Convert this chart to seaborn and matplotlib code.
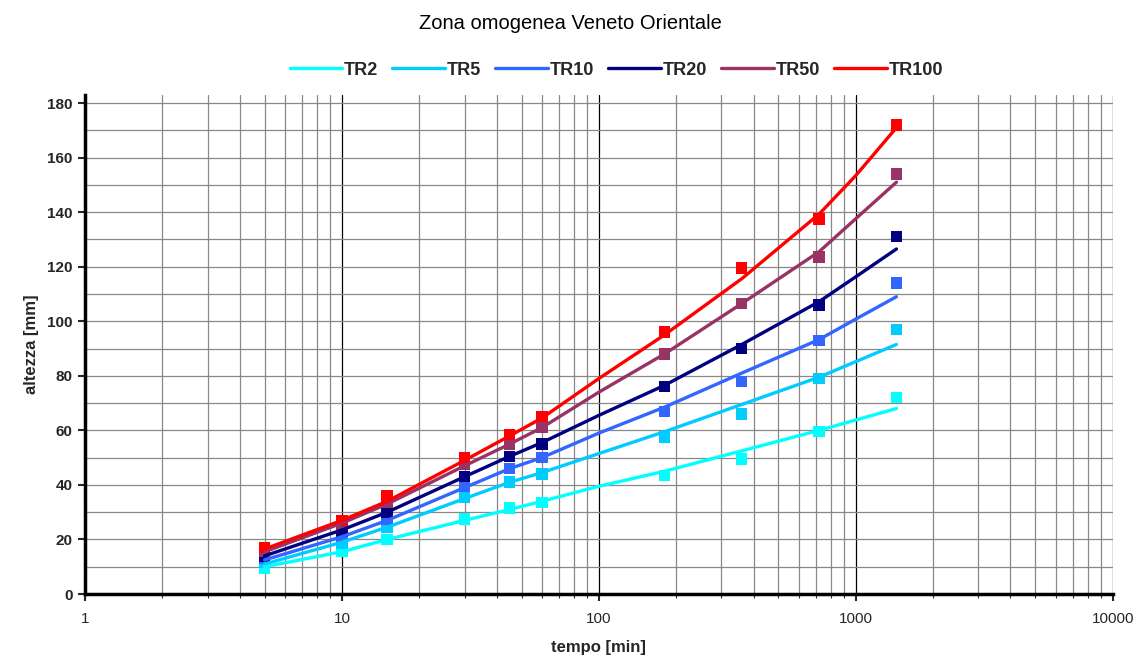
import numpy as np
import pandas as pd
import seaborn as sns
import matplotlib.pyplot as plt
from matplotlib.ticker import LogLocator, FixedLocator, NullFormatter, MultipleLocator

# durations of the observed points [min]
durate = [5, 10, 15, 30, 45, 60, 180, 360, 720, 1440]
# durations where the fitted curves were read
durate_curva = [5, 10, 15, 30, 45, 60, 100, 180, 360, 720, 1000, 1440]

serie = ['TR2', 'TR5', 'TR10', 'TR20', 'TR50', 'TR100']
colori = ['#00FFFF', '#00CCFF', '#3366FF', '#000080', '#993366', '#FF0000']

# observed heights [mm]
oss_tr2 = [9.5, 15.5, 20, 27.5, 31.5, 33.5, 43.5, 49.5, 59.5, 72]
oss_tr5 = [11.5, 18.5, 24.5, 35.5, 41, 44, 57.5, 66, 79, 97]
oss_tr10 = [13, 21, 27.5, 39.5, 46, 50, 67, 78, 93, 114]
oss_tr20 = [14, 23, 30, 43, 50.5, 55, 76, 90, 106, 131]
oss_tr50 = [15.5, 25.5, 33.5, 47.5, 55, 61, 88, 106.5, 123.5, 154]
oss_tr100 = [17, 27, 36, 50, 58.5, 65, 96, 119.5, 137.5, 172]

# fitted curves [mm]
fit_tr2 = [10, 15.5, 20, 27, 31, 34, 39.5, 45, 52.5, 60, 63.8, 68]
fit_tr5 = [11, 19, 24.5, 35, 41, 44.5, 51.5, 59.5, 69.5, 79.5, 85.2, 91.5]
fit_tr10 = [12.5, 21, 27, 39, 46, 50, 59, 68.5, 81, 93.3, 100.8, 109]
fit_tr20 = [14, 23.5, 30, 43, 50.5, 55.5, 65.5, 76.5, 91.5, 107.2, 116.3, 126.5]
fit_tr50 = [15.5, 26, 33, 47, 55, 61, 74, 88, 106.5, 125.5, 137.6, 151]
fit_tr100 = [16.5, 27, 34, 49, 58, 64.5, 79, 95, 115.6, 139.3, 153.4, 171]

oss = [oss_tr2, oss_tr5, oss_tr10, oss_tr20, oss_tr50, oss_tr100]
fit = [fit_tr2, fit_tr5, fit_tr10, fit_tr20, fit_tr50, fit_tr100]

df_oss = pd.concat([pd.DataFrame({'tempo': durate, 'altezza': v, 'TR': s})
                    for s, v in zip(serie, oss)])
df_fit = pd.concat([pd.DataFrame({'tempo': durate_curva, 'altezza': v, 'TR': s})
                    for s, v in zip(serie, fit)])

sns.set_style('white')
plt.rcParams['font.family'] = ['Liberation Sans', 'DejaVu Sans']

fig = plt.figure(figsize=(11.4, 6.59), dpi=100)
ax = fig.add_axes([0.0746, 0.0986, 0.9014, 0.7574])
palette = dict(zip(serie, colori))

sns.scatterplot(data=df_oss, x='tempo', y='altezza', hue='TR', palette=palette,
                marker='s', s=68, linewidth=0, legend=False, ax=ax, zorder=3)
sns.lineplot(data=df_fit, x='tempo', y='altezza', hue='TR', palette=palette,
             linewidth=2.4, ax=ax, zorder=4)

ax.set_xscale('log')
ax.set_xlim(1, 10000)
ax.set_ylim(0, 183)
ax.xaxis.set_major_locator(FixedLocator([1, 10, 100, 1000, 10000]))
ax.set_xticklabels(['1', '10', '100', '1000', '10000'])
ax.xaxis.set_minor_locator(LogLocator(base=10, subs=np.arange(2, 10)))
ax.xaxis.set_minor_formatter(NullFormatter())
ax.yaxis.set_major_locator(FixedLocator(list(range(0, 181, 20))))
ax.yaxis.set_minor_locator(MultipleLocator(10))

ax.grid(True, which='major', axis='x', color='black', linewidth=0.9)
ax.grid(True, which='minor', axis='x', color='#888888', linewidth=0.9)
ax.grid(True, which='both', axis='y', color='#888888', linewidth=0.9)
ax.set_axisbelow(True)

for sp in ['top', 'right']:
    ax.spines[sp].set_visible(False)
ax.spines['left'].set_linewidth(2.5)
ax.spines['bottom'].set_linewidth(2.5)
ax.spines['left'].set_color('black')
ax.spines['bottom'].set_color('black')

ax.tick_params(axis='y', which='major', direction='out', length=5, width=1.5,
               left=True, labelsize=11, pad=4)
ax.tick_params(axis='y', which='minor', left=False)
ax.tick_params(axis='x', which='major', direction='out', length=5, width=1.5,
               bottom=True, labelsize=11, pad=8)
ax.tick_params(axis='x', which='minor', direction='out', length=3, width=0.8,
               bottom=True)
for lab in ax.get_yticklabels():
    lab.set_fontweight('bold')

ax.set_xlabel('tempo [min]', fontsize=12, fontweight='bold', labelpad=10)
ax.set_ylabel('altezza [mm]', fontsize=12, fontweight='bold', labelpad=6)

fig.suptitle('Zona omogenea Veneto Orientale', fontsize=14.5, y=0.978, color='black')

ax.legend(loc='lower center', bbox_to_anchor=(0.517, 1.0), ncol=6, frameon=False,
          handlelength=2.9, handletextpad=0.1, columnspacing=0.8,
          prop={'weight': 'bold', 'size': 13})

plt.savefig('out.png', dpi=100)
plt.clf()
